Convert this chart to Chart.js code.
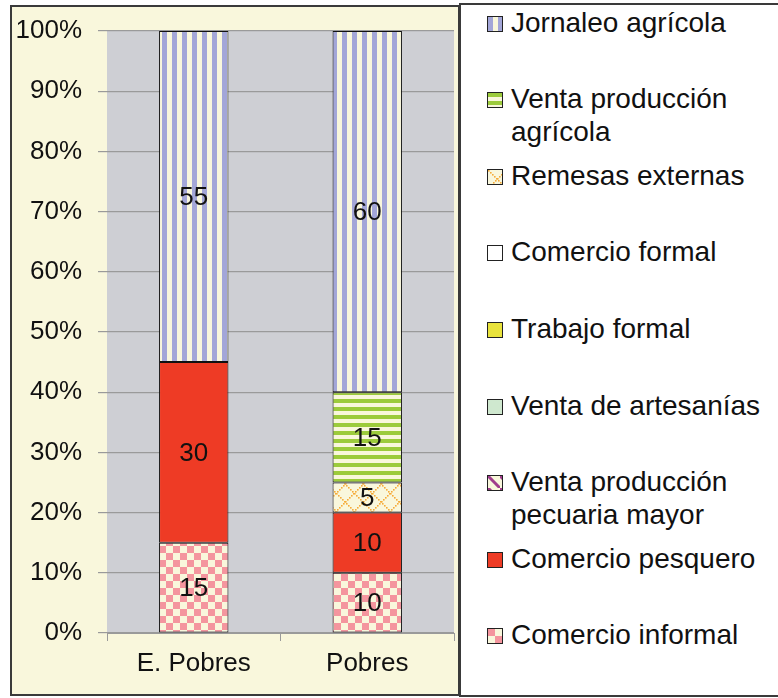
<!DOCTYPE html>
<html>
<head>
<meta charset="utf-8">
<script src="https://cdn.jsdelivr.net/npm/chart.js@4.4.1/dist/chart.umd.min.js"></script>
<style>
  html, body { margin: 0; padding: 0; background: #ffffff; }
  body { width: 778px; height: 698px; position: relative; overflow: hidden; font-family: "Liberation Sans", Arial, sans-serif; }
  #painel { position: absolute; left: 10px; top: 5px; width: 450px; height: 691px; border: 2px solid #3a3a3a; box-sizing: border-box; background: #f9f7dc; }
  #painel canvas { position: absolute; left: 0; top: 0; }
  #legenda { position: absolute; left: 459px; top: 3px; width: 330px; height: 694px; border: 2px solid #3a3a3a; border-right: none; box-sizing: border-box; background: #ffffff; }
  .item { position: absolute; left: 0; width: 320px; }
  .item canvas { position: absolute; left: 26px; border: 1px solid #222; box-sizing: border-box; }
  .item span { position: absolute; left: 50px; top: 0; font-size: 28px; line-height: 33px; color: #111; white-space: pre; }
</style>
</head>
<body>
<div id="painel"><canvas id="grafico" width="446" height="687"></canvas></div>
<div id="legenda"></div>
<script>
// dados (ordem de empilhamento: de baixo para cima)
const categorias = ['E. Pobres', 'Pobres'];
const nomesSeries = [
  'Comercio informal',
  'Comercio pesquero',
  'Venta producción\npecuaria mayor',
  'Venta de artesanías',
  'Trabajo formal',
  'Comercio formal',
  'Remesas externas',
  'Venta producción\nagrícola',
  'Jornaleo agrícola'
];
const comercioInformal = [15, 10];
const comercioPesquero = [30, 10];
const ventaPecuaria = [0, 0];
const ventaArtesanias = [0, 0];
const trabajoFormal = [0, 0];
const comercioFormal = [0, 0];
const remesasExternas = [0, 5];
const ventaAgricola = [0, 15];
const jornaleoAgricola = [55, 60];
const valoresSeries = [comercioInformal, comercioPesquero, ventaPecuaria, ventaArtesanias,
  trabajoFormal, comercioFormal, remesasExternas, ventaAgricola, jornaleoAgricola];
const ticksY = [0, 10, 20, 30, 40, 50, 60, 70, 80, 90, 100];

const CREME = '#f9f7dc';
const tiposPadrao = ['xadrez', 'vermelho', 'diagonal', 'verdeClaro', 'amarelo', 'branco', 'rede', 'listrasH', 'listrasV'];

function criarPadrao(ctx, tipo) {
  const c = document.createElement('canvas');
  const g = c.getContext('2d');
  if (tipo === 'vermelho') return '#ee3b25';
  if (tipo === 'verdeClaro') return '#cfe8cf';
  if (tipo === 'amarelo') return '#e9e33b';
  if (tipo === 'branco') return '#ffffff';
  if (tipo === 'listrasV') {
    c.width = 10; c.height = 10;
    g.fillStyle = CREME; g.fillRect(0, 0, 10, 10);
    g.fillStyle = '#a3a6d8'; g.fillRect(0, 0, 5, 10);
  } else if (tipo === 'listrasH') {
    c.width = 8; c.height = 8;
    g.fillStyle = CREME; g.fillRect(0, 0, 8, 8);
    g.fillStyle = '#9ccb3c'; g.fillRect(0, 0, 8, 4);
  } else if (tipo === 'xadrez') {
    c.width = 14; c.height = 14;
    g.fillStyle = CREME; g.fillRect(0, 0, 14, 14);
    g.fillStyle = '#f4959e'; g.fillRect(0, 0, 7, 7); g.fillRect(7, 7, 7, 7);
  } else if (tipo === 'rede') {
    c.width = 18; c.height = 18;
    g.fillStyle = CREME; g.fillRect(0, 0, 18, 18);
    g.fillStyle = '#f5ab3a';
    for (let i = 0; i < 18; i += 2) {
      g.fillRect(i, i, 1.6, 1.6);
      g.fillRect(17 - i, i, 1.6, 1.6);
    }
  } else if (tipo === 'diagonal') {
    c.width = 12; c.height = 12;
    g.fillStyle = CREME; g.fillRect(0, 0, 12, 12);
    g.strokeStyle = '#a03c8c'; g.lineWidth = 3;
    g.beginPath(); g.moveTo(0, 0); g.lineTo(12, 12); g.stroke();
  }
  return ctx.createPattern(c, 'repeat');
}

const ctxGrafico = document.getElementById('grafico').getContext('2d');

const fundoPlot = {
  id: 'fundoPlot',
  beforeDraw(chart) {
    const a = chart.chartArea;
    chart.ctx.save();
    chart.ctx.fillStyle = '#cecfd4';
    chart.ctx.fillRect(a.left, a.top, a.right - a.left, a.bottom - a.top);
    chart.ctx.restore();
  }
};

const rotulosValores = {
  id: 'rotulosValores',
  afterDatasetsDraw(chart) {
    const ctx = chart.ctx;
    ctx.save();
    ctx.font = '26px "Liberation Sans", Arial, sans-serif';
    ctx.fillStyle = '#111';
    ctx.textAlign = 'center';
    ctx.textBaseline = 'middle';
    chart.data.datasets.forEach((ds, i) => {
      const meta = chart.getDatasetMeta(i);
      meta.data.forEach((el, j) => {
        const v = ds.data[j];
        if (!v) return;
        ctx.fillText(String(v), el.x, (el.y + el.base) / 2 + 1);
      });
    });
    ctx.restore();
  }
};

new Chart(ctxGrafico, {
  type: 'bar',
  data: {
    labels: categorias,
    datasets: valoresSeries.map((vals, i) => ({
      label: nomesSeries[i],
      data: vals,
      backgroundColor: criarPadrao(ctxGrafico, tiposPadrao[i]),
      borderColor: '#111',
      borderWidth: 1,
      borderSkipped: false,
      barPercentage: 0.4,
      categoryPercentage: 1
    }))
  },
  options: {
    responsive: false,
    animation: false,
    layout: { padding: { top: 24, right: 4, bottom: 0, left: 0 } },
    plugins: { legend: { display: false }, tooltip: { enabled: false } },
    scales: {
      x: {
        stacked: true,
        afterFit(scale) { scale.height = 61; },
        grid: { offset: true, drawOnChartArea: false, tickLength: 8, color: '#9a9a9a' },
        border: { display: true, color: '#9a9a9a' },
        ticks: { color: '#111', padding: 7, font: { family: '"Liberation Sans", Arial, sans-serif', size: 26 } }
      },
      y: {
        stacked: true,
        min: 0,
        max: 100,
        afterFit(scale) { scale.width = 95; },
        afterBuildTicks(scale) { scale.ticks = ticksY.map(v => ({ value: v })); },
        grid: { color: '#9a9a9a', tickLength: 9, lineWidth: 1.2 },
        border: { display: false },
        ticks: {
          color: '#111',
          padding: 16,
          font: { family: '"Liberation Sans", Arial, sans-serif', size: 26, lineHeight: 0.3 },
          callback: v => v + '%'
        }
      }
    }
  },
  plugins: [fundoPlot, rotulosValores]
});

// legenda em HTML, ordem inversa do empilhamento
const legenda = document.getElementById('legenda');
const ordemLegenda = nomesSeries.map((n, i) => i).reverse();
ordemLegenda.forEach((idx, pos) => {
  const item = document.createElement('div');
  item.className = 'item';
  item.style.top = (0.5 + pos * 76.6) + 'px';
  const sw = document.createElement('canvas');
  sw.width = 14; sw.height = 14;
  sw.style.top = '10px';
  const g = sw.getContext('2d');
  g.fillStyle = criarPadrao(g, tiposPadrao[idx]);
  g.fillRect(0, 0, 14, 14);
  const txt = document.createElement('span');
  txt.textContent = nomesSeries[idx];
  item.appendChild(sw);
  item.appendChild(txt);
  legenda.appendChild(item);
});
</script>
</body>
</html>
